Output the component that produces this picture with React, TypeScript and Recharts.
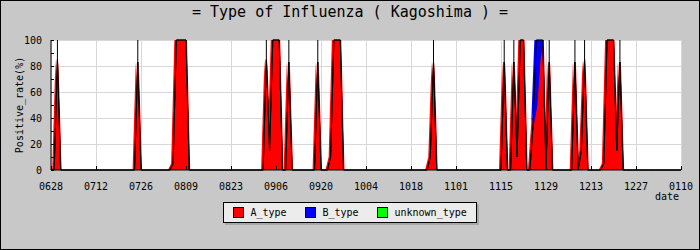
import { AreaChart, Area, XAxis, YAxis, CartesianGrid, Legend, ReferenceLine } from "recharts";

const FONT = '"DejaVu Sans Mono", monospace';

// x axis: days counted from 06/28, one tick every 14 days
const tickDays = [0, 14, 28, 42, 56, 70, 84, 98, 112, 126, 140, 154, 168, 182, 196];
const tickLabels = ["0628", "0712", "0726", "0809", "0823", "0906", "0920", "1004", "1018", "1101", "1115", "1129", "1213", "1227", "0110"];
const yTicks = [0, 10, 20, 30, 40, 50, 60, 70, 80, 90, 100];

// only the days with a positive rate are listed, every other day is 0
const posDays = [2, 27, 38, 39, 40, 41, 42, 67, 68, 69, 70, 71, 74, 83, 87, 88, 89, 90, 118, 119, 141, 144, 145, 146, 147, 150, 151, 152, 153, 155, 163, 165, 166, 172, 173, 174, 175, 176, 177];
const aType = [85, 83, 5, 100, 100, 100, 100, 85, 15, 100, 100, 100, 83, 83, 10, 100, 100, 100, 10, 83, 83, 83, 10, 100, 100, 35, 50, 85, 100, 83, 83, 15, 85, 5, 100, 100, 100, 15, 83];
const bType = [0, 0, 0, 0, 0, 0, 0, 0, 0, 0, 0, 0, 0, 0, 0, 0, 0, 0, 0, 0, 0, 0, 0, 0, 0, 0, 50, 15, 0, 0, 0, 0, 0, 0, 0, 0, 0, 0, 0];
const unknownType = [0, 0, 0, 0, 0, 0, 0, 0, 0, 0, 0, 0, 0, 0, 0, 0, 0, 0, 0, 0, 0, 0, 0, 0, 0, 0, 0, 0, 0, 0, 0, 0, 0, 0, 0, 0, 0, 0, 0];

// days where a thin black marker runs from the peak up to 100%
const markDays = [2, 27, 67, 74, 83, 119, 141, 144, 155, 163, 166, 177];

const seriesNames = ["A_type", "B_type", "unknown_type"];
const seriesColors = ["#ff0000", "#0000ff", "#00ff00"];

const tableData = Array.from({ length: 197 }, (_, d) => {
  const i = posDays.indexOf(d);
  return {
    day: d,
    A_type: i < 0 ? 0 : aType[i],
    B_type: i < 0 ? 0 : bType[i],
    unknown_type: i < 0 ? 0 : unknownType[i],
  };
});

const totalOf = (d: number) => {
  const r = tableData[d];
  return r.A_type + r.B_type + r.unknown_type;
};

// the old chart rasterised its polygons without anti-aliasing, which makes
// the narrow spikes look fatter; widen the fills a little sideways
const css = seriesColors
  .map(
    (c, i) =>
      `.area-${i} .recharts-area-area{filter:drop-shadow(1.3px 0 0 ${c}) drop-shadow(-1.3px 0 0 ${c});}`
  )
  .join("\n");

const XTick = (props: any) => {
  const { x, y, payload } = props;
  const idx = tickDays.indexOf(payload.value);
  return (
    <g>
      <line x1={x} x2={x} y1={y} y2={y - 4} stroke="#000" shapeRendering="crispEdges" />
      <text x={x} y={y + 19.5} textAnchor="middle" fontSize={10} fontFamily={FONT} fill="#000">
        {tickLabels[idx]}
      </text>
    </g>
  );
};

const YTick = (props: any) => {
  const { x, y, payload } = props;
  return (
    <g>
      <line x1={x} x2={x + 3} y1={y} y2={y} stroke="#000" shapeRendering="crispEdges" />
      {payload.value % 20 === 0 && (
        <text x={x - 9} y={y + 3.7} textAnchor="end" fontSize={10} fontFamily={FONT} fill="#000">
          {payload.value}
        </text>
      )}
    </g>
  );
};

const YTitle = () => (
  <text x={22.5} y={105} transform="rotate(-90 22.5 105)" textAnchor="middle" fontSize={10} fontFamily={FONT} fill="#000">
    Positive_rate(%)
  </text>
);

const XTitle = () => (
  <text x={679} y={199.5} textAnchor="end" fontSize={10} fontFamily={FONT} fill="#000">
    date
  </text>
);

const LegendBox = () => (
  <div
    style={{
      position: "relative",
      width: 254,
      height: 21,
      boxSizing: "border-box",
      background: "#ececec",
      border: "1px solid #000",
      boxShadow: "2px 2px 0 #a8a8a8",
      fontFamily: FONT,
      fontSize: 10,
      color: "#000",
    }}
  >
    {seriesNames.map((name, i) => (
      <div key={name}>
        <div
          style={{
            position: "absolute",
            left: 9 + i * 72,
            top: 4,
            width: 11,
            height: 11,
            boxSizing: "border-box",
            background: seriesColors[i],
            border: "1px solid #000",
          }}
        />
        <div style={{ position: "absolute", left: 26.5 + i * 72, top: 0, lineHeight: "19px", whiteSpace: "nowrap" }}>
          {name}
        </div>
      </div>
    ))}
  </div>
);

export default function App() {
  return (
    <div
      style={{
        position: "absolute",
        left: 0,
        top: 0,
        width: 700,
        height: 250,
        background: "#c8c8c8",
        outline: "1px solid #000",
        outlineOffset: -1,
      }}
    >
      <style>{css}</style>
      <div
        style={{
          position: "absolute",
          left: 0,
          top: 3,
          width: 700,
          textAlign: "center",
          fontFamily: FONT,
          fontSize: 15,
          lineHeight: "normal",
          color: "#000",
        }}
      >
        = Type of Influenza ( Kagoshima ) =
      </div>
      <AreaChart width={700} height={250} data={tableData} margin={{ top: 40, right: 19, bottom: 0, left: 0 }}>
        <CartesianGrid
          fill="#ffffff"
          stroke="#d8d8d8"
          horizontalValues={[20, 40, 60, 80, 100]}
          verticalValues={tickDays}
          shapeRendering="crispEdges"
        />
        {seriesNames.map((name, i) => (
          <Area
            key={name}
            className={`area-${i}`}
            type="linear"
            dataKey={name}
            stackId="1"
            fill={seriesColors[i]}
            fillOpacity={1}
            stroke="#000"
            strokeWidth={0.7}
            dot={false}
            activeDot={false}
            isAnimationActive={false}
          />
        ))}
        {markDays.map((d) => (
          <ReferenceLine
            key={d}
            segment={[
              { x: d, y: totalOf(d) },
              { x: d, y: 100 },
            ]}
            stroke="#000"
            strokeWidth={1}
          />
        ))}
        <XAxis
          dataKey="day"
          type="number"
          domain={[0, 196]}
          ticks={tickDays}
          interval={0}
          height={80}
          tickSize={0}
          tickMargin={0}
          tick={<XTick />}
          axisLine={{ stroke: "#000" }}
          label={<XTitle />}
        />
        <YAxis
          type="number"
          domain={[0, 100]}
          ticks={yTicks}
          interval={0}
          width={51}
          tickSize={0}
          tickMargin={0}
          tick={<YTick />}
          axisLine={{ stroke: "#000" }}
          label={<YTitle />}
        />
        <Legend
          layout="vertical"
          align="center"
          verticalAlign="middle"
          wrapperStyle={{ left: 223, top: 202, width: 254, height: 21 }}
          content={() => <LegendBox />}
        />
      </AreaChart>
    </div>
  );
}
